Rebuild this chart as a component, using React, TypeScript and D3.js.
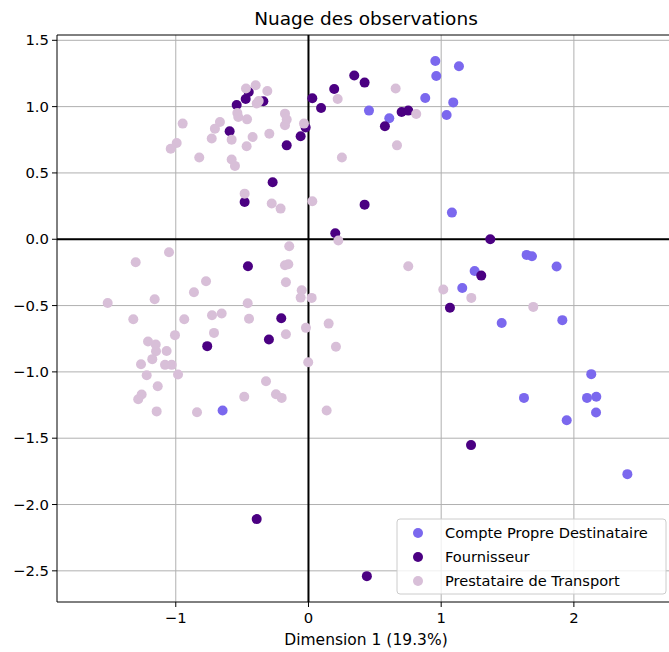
import React from "react";
import * as d3 from "d3";

const categories = ["Compte Propre Destinataire", "Fournisseur", "Prestataire de Transport"];
const colors = ["#7B68EE", "#4B0082", "#D8BFD8"];

const compteP: [number, number][] = [
  [0.956, 1.344], [1.134, 1.304], [0.963, 1.231], [0.88, 1.065], [1.091, 1.032], [1.041, 0.937],
  [0.456, 0.97], [0.609, 0.912], [1.081, 0.201], [1.644, -0.118], [1.684, -0.128], [1.87, -0.206],
  [1.252, -0.239], [1.159, -0.367], [1.456, -0.631], [1.913, -0.61], [2.131, -1.017], [2.099, -1.196],
  [2.169, -1.188], [2.167, -1.306], [1.624, -1.196], [1.946, -1.364], [2.403, -1.771], [-0.647, -1.291],
];

const fournisseur: [number, number][] = [
  [-0.473, 1.057], [-0.45, 1.11], [-0.541, 1.012], [-0.34, 1.04], [0.029, 1.063], [0.095, 0.99],
  [-0.594, 0.814], [-0.164, 0.708], [-0.059, 0.776], [-0.021, 0.842], [-0.27, 0.43], [-0.481, 0.281],
  [0.194, 1.133], [0.345, 1.234], [0.423, 1.181], [0.702, 0.96], [0.752, 0.97], [0.576, 0.852],
  [0.423, 0.261], [0.202, 0.045], [1.37, 0.0], [1.302, -0.274], [1.066, -0.517], [1.225, -1.552],
  [-0.456, -0.203], [-0.205, -0.595], [-0.298, -0.756], [-0.763, -0.806], [-0.39, -2.11], [0.44, -2.54],
];

const prestataire: [number, number][] = [
  [-0.471, 1.136], [-0.398, 1.161], [-0.31, 1.118], [-0.39, 1.023], [-0.375, 1.042], [-0.536, 0.952],
  [-0.529, 0.922], [-0.463, 0.904], [-0.177, 0.947], [-0.164, 0.902], [-0.177, 0.859], [-0.034, 0.872],
  [-0.948, 0.872], [-0.667, 0.884], [-0.705, 0.834], [-0.729, 0.759], [-0.579, 0.751], [-0.421, 0.771],
  [-0.295, 0.796], [-0.466, 0.701], [-0.993, 0.726], [-1.038, 0.683], [-0.823, 0.616], [-0.579, 0.601],
  [-0.554, 0.553], [-0.481, 0.344], [-0.277, 0.269], [-0.21, 0.231], [0.029, 0.286], [0.22, 1.057],
  [0.657, 1.136], [0.812, 0.944], [0.667, 0.708], [0.252, 0.616], [0.225, -0.01], [0.752, -0.203],
  [1.016, -0.379], [1.227, -0.442], [1.694, -0.51],
  [-0.145, -0.053], [-0.177, -0.196], [-0.152, -0.188], [-1.051, -0.098], [-1.302, -0.173], [-0.772, -0.317],
  [-0.863, -0.399], [-1.513, -0.48], [-1.159, -0.452], [-1.32, -0.603], [-0.936, -0.603], [-0.727, -0.573],
  [-0.654, -0.56], [-0.712, -0.706], [-1.006, -0.723], [-1.209, -0.771], [-1.151, -0.794], [-1.149, -0.844],
  [-1.069, -0.842], [-1.177, -0.904], [-1.262, -0.942], [-1.081, -0.947], [-1.031, -0.947], [-1.219, -1.025],
  [-0.983, -1.02], [-1.136, -1.108], [-1.257, -1.17], [-1.283, -1.206], [-1.144, -1.298], [-0.84, -1.304],
  [-0.17, -0.324], [-0.051, -0.384], [-0.059, -0.44], [0.024, -0.442], [-0.458, -0.482], [-0.448, -0.6],
  [-0.17, -0.716], [0.152, -0.636], [-0.019, -0.668], [0.207, -0.811], [-0.002, -0.927], [-0.32, -1.07],
  [-0.484, -1.188], [-0.245, -1.168], [-0.202, -1.196], [0.137, -1.291],
];

const series = [compteP, fournisseur, prestataire];
const xTicks = [-1, 0, 1, 2];
const yTicks = [-2.5, -2.0, -1.5, -1.0, -0.5, 0.0, 0.5, 1.0, 1.5];
const title = "Nuage des observations";
const xLabel = "Dimension 1 (19.3%)";

const W = 669, H = 652;
const L = 57, R = 675, T = 35, B = 602;
const font = "DejaVu Sans, sans-serif";

export default function App() {
  const x = d3.scaleLinear().domain([-1.895, 2.762]).range([L, R]);
  const y = d3.scaleLinear().domain([-2.735, 1.54]).range([B, T]);
  const fmt = (v: number) => (v < 0 ? "\u2212" : "") + Math.abs(v).toFixed(1);
  const fmtX = (v: number) => (v < 0 ? "\u2212" : "") + Math.abs(v).toString();
  return (
    <svg width={W} height={H} style={{ position: "absolute", left: 0, top: 0 }} fontFamily={font}>
      <rect x={0} y={0} width={W} height={H} fill="#fff" />
      <defs>
        <clipPath id="plot"><rect x={L} y={T} width={R - L} height={B - T} /></clipPath>
      </defs>
      <g stroke="#b0b0b0" strokeWidth={1}>
        {xTicks.map((t) => <line key={"gx" + t} x1={x(t)} x2={x(t)} y1={T} y2={B} />)}
        {yTicks.map((t) => <line key={"gy" + t} x1={L} x2={R} y1={y(t)} y2={y(t)} />)}
      </g>
      <g stroke="#000" strokeWidth={2}>
        <line x1={L} x2={R} y1={y(0)} y2={y(0)} />
        <line x1={x(0)} x2={x(0)} y1={T} y2={B} />
      </g>
      <g clipPath="url(#plot)">
        {series.map((s, i) =>
          s.map((p, j) => <circle key={i + "-" + j} cx={x(p[0])} cy={y(p[1])} r={5} fill={colors[i]} />)
        )}
      </g>
      <g stroke="#000" strokeWidth={1} fill="none">
        <line x1={L} x2={L} y1={T} y2={B} />
        <line x1={L} x2={R} y1={T} y2={T} />
        <line x1={L} x2={R} y1={B} y2={B} />
      </g>
      <g stroke="#000" strokeWidth={1}>
        {xTicks.map((t) => <line key={"tx" + t} x1={x(t)} x2={x(t)} y1={B} y2={B + 5} />)}
        {yTicks.map((t) => <line key={"ty" + t} x1={L - 5} x2={L} y1={y(t)} y2={y(t)} />)}
      </g>
      <g fontSize={14.8} fill="#000">
        {xTicks.map((t) => (
          <text key={"lx" + t} x={x(t)} y={B + 21} textAnchor="middle">{fmtX(t)}</text>
        ))}
        {yTicks.map((t) => (
          <text key={"ly" + t} x={L - 8} y={y(t) + 5} textAnchor="end">{fmt(t)}</text>
        ))}
      </g>
      <text x={(L + R) / 2} y={645} textAnchor="middle" fontSize={15.5}>{xLabel}</text>
      <text x={(L + R) / 2} y={25} textAnchor="middle" fontSize={18.5}>{title}</text>
      <g>
        <rect x={397} y={519} width={269} height={75} rx={3} fill="#fff" fillOpacity={0.8} stroke="#cccccc" />
        {categories.map((c, i) => (
          <g key={c}>
            <circle cx={418} cy={533 + i * 24} r={5} fill={colors[i]} />
            <text x={445} y={538 + i * 24} fontSize={14.6}>{c}</text>
          </g>
        ))}
      </g>
    </svg>
  );
}
